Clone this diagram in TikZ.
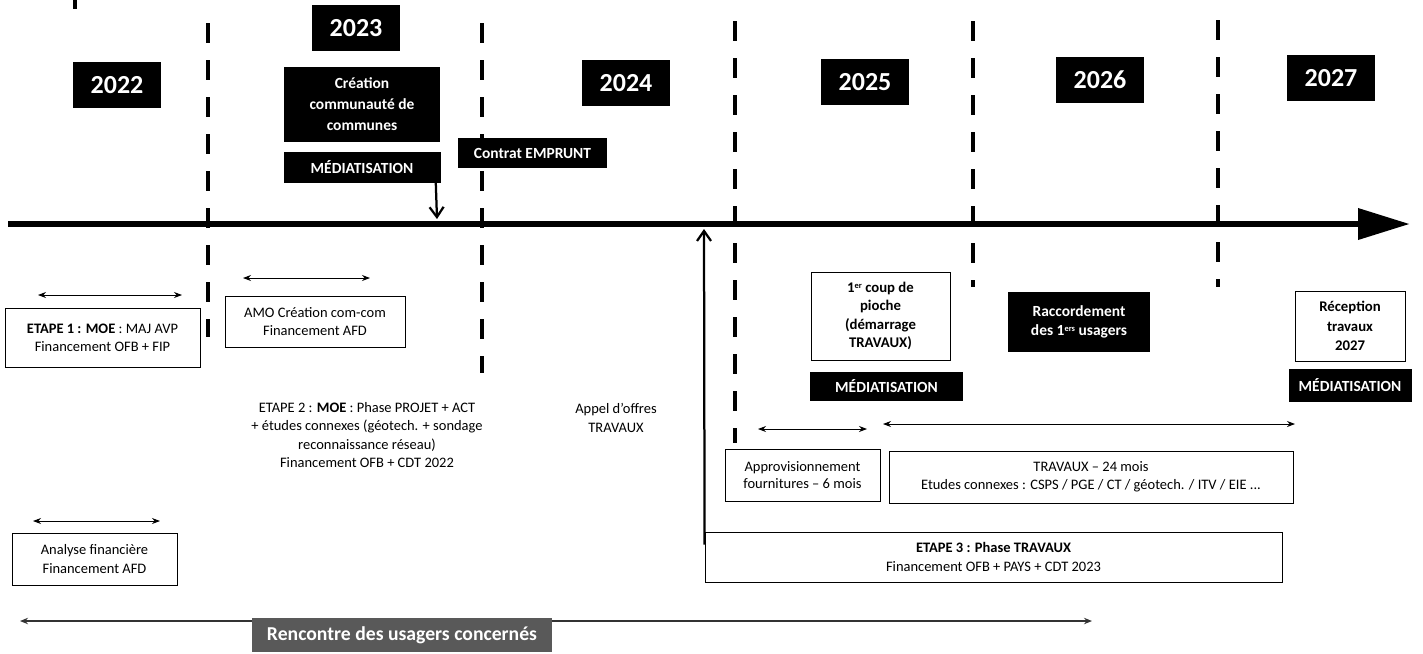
\documentclass[tikz,border=0pt]{standalone}
\usepackage{fontspec}
\setmainfont{Carlito}
\usepackage{tikz}
\usetikzlibrary{positioning}
\usetikzlibrary{arrows.meta}
\tikzset{
   yearBox/.style={fill=black, text=white, font=\bfseries\fontsize{18.5}{20}\selectfont, minimum width=22mm, minimum height=11.5mm, inner sep=0mm},
   blackLabel/.style={fill=black, text=white, font=\bfseries\fontsize{11}{14}\selectfont, align=center, inner sep=0mm},
   plainBox/.style={draw=black, line width=0.6pt, font=\fontsize{10.3}{13}\selectfont, align=center, inner sep=0mm},
   plainText/.style={font=\fontsize{10.3}{13}\selectfont, align=center, inner sep=0mm},
   yearLine/.style={draw=black, line width=1mm, dash pattern=on 5mm off 4.25mm},
   spanArrow/.style={draw=black, line width=0.6pt, {Stealth[length=2mm,width=1.5mm]}-{Stealth[length=2mm,width=1.5mm]}},
   timeAxis/.style={draw=black, line width=1.7mm, -{Triangle[length=13mm,width=7.5mm]}},
   pointer/.style={draw=black, line width=1.6pt, -{Straight Barb[length=2.5mm,width=3.5mm]}},
}
\newcommand{\supsmall}[1]{\raisebox{0.6ex}{\fontsize{6}{6}\selectfont #1}}

\begin{document}
\begin{tikzpicture}[x=0.25mm, y=-0.25mm, node distance=2.25mm]
  \useasboundingbox (0,0) rectangle (1423,653);
  %
  % year separators
  \draw[line width=1mm] (75,0) -- (75,9);
  \draw[yearLine] (208,23) -- (208,337);
  \draw[yearLine] (482,23) -- (482,373);
  \draw[yearLine] (735,21) -- (735,443);
  \draw[yearLine] (973,21) -- (973,287);
  \draw[yearLine] (1218,20) -- (1218,287);
  %
  \coordinate (axisStart) at (8,224);
  \coordinate (axisEnd) at (1410,224);
  \draw[timeAxis] (axisStart) -- (axisEnd);
  %
  \node[yearBox] (year2022) at (117,85) {2022};
  \node[yearBox] (year2023) at (356,28) {2023};
  \node[yearBox] (year2024) at (626,83) {2024};
  \node[yearBox] (year2025) at (865,82) {2025};
  \node[yearBox] (year2026) at (1100,80) {2026};
  \node[yearBox] (year2027) at (1331,78) {2027};
  %
  \node[blackLabel, minimum width=39mm, minimum height=18.75mm, font=\bfseries\fontsize{11}{15}\selectfont] (creation) at (362,104.5) {Création\\communauté de\\communes};
  \node[blackLabel, minimum width=39.25mm, minimum height=7.75mm, below=of creation] (mediaOne) {MÉDIATISATION};
  \node[blackLabel, minimum width=37.25mm, minimum height=7.5mm] (contrat) at (532.5,153) {Contrat EMPRUNT};
  %
  \coordinate (axisHitA) at (437,219);
  \draw[pointer] ([xshift=-1.25mm]mediaOne.south east) -- (axisHitA);
  %
  \coordinate (spanOneL) at (38,295);
  \coordinate (spanOneR) at (182,295);
  \draw[spanArrow] (spanOneL) -- (spanOneR);
  \node[plainBox, minimum width=48.75mm, minimum height=14.75mm] (etapeOne) at (102.5,337.5) {\textbf{ETAPE 1 : MOE} : MAJ AVP\\Financement OFB + FIP};
  %
  \coordinate (spanAmoL) at (243,278);
  \coordinate (spanAmoR) at (370,278);
  \draw[spanArrow] (spanAmoL) -- (spanAmoR);
  \node[plainBox, minimum width=45mm, minimum height=12.75mm] (amo) at (315,321.5) {AMO Création com-com\\Financement AFD};
  %
  \node[plainText] (etapeTwo) at (367,435) {ETAPE 2 : \textbf{MOE} : Phase PROJET + ACT\\+ études connexes (géotech. + sondage\\reconnaissance réseau)\\Financement OFB + CDT 2022};
  \node[plainText] (appel) at (616,418) {Appel d’offres\\TRAVAUX};
  %
  \node[plainBox, minimum width=34.75mm, minimum height=22mm, font=\bfseries\fontsize{10.5}{13}\selectfont] (pioche) at (880.5,316) {1\supsmall{er} coup de\\pioche\\(démarrage\\TRAVAUX)};
  \node[blackLabel, minimum width=38.25mm, minimum height=7.25mm, below=2.75mm of pioche.south, anchor=north, xshift=1.5mm] (mediaTwo) {MÉDIATISATION};
  \node[blackLabel, minimum width=35.5mm, minimum height=15mm] (raccord) at (1079,322) {Raccordement\\des 1\supsmall{ers} usagers};
  \node[plainBox, minimum width=27.5mm, minimum height=17.5mm, font=\bfseries\fontsize{10.5}{14}\selectfont] (reception) at (1350,326) {Réception\\travaux\\2027};
  \node[blackLabel, minimum width=30.75mm, minimum height=8.25mm, below=1.75mm of reception.south, anchor=north] (mediaThree) {MÉDIATISATION};
  %
  \coordinate (spanApproL) at (758,429);
  \coordinate (spanApproR) at (867,429);
  \draw[spanArrow] (spanApproL) -- (spanApproR);
  \coordinate (spanTravL) at (883,424);
  \coordinate (spanTravR) at (1295,424);
  \draw[spanArrow] (spanTravL) -- (spanTravR);
  \node[plainBox, minimum width=38.75mm, minimum height=13mm, font=\fontsize{10.3}{12}\selectfont] (appro) at (802.5,475) {Approvisionnement\\fournitures -- 6 mois};
  \node[plainBox, minimum width=101mm, minimum height=13mm] (travaux) at (1091,477) {TRAVAUX -- 24 mois\\Etudes connexes : CSPS / PGE / CT / géotech. / ITV / EIE ...};
  \node[plainBox, minimum width=144.25mm, minimum height=12.5mm] (etapeThree) at (993.5,557) {\textbf{ETAPE 3 : Phase TRAVAUX}\\Financement OFB + PAYS + CDT 2023};
  %
  \coordinate (axisHitB) at (704,229);
  \draw[pointer] ([yshift=-3.25mm]etapeThree.north west) -- (axisHitB);
  %
  \coordinate (spanAnaL) at (33,521);
  \coordinate (spanAnaR) at (160,521);
  \draw[spanArrow] (spanAnaL) -- (spanAnaR);
  \node[plainBox, minimum width=41.25mm, minimum height=13mm] (analyse) at (94.5,559) {Analyse financière\\Financement AFD};
  %
  \coordinate (meetL) at (20,621);
  \coordinate (meetR) at (1092,621);
  \draw[draw=black!80, line width=0.5mm, {Stealth[length=2mm,width=1.6mm]}-{Stealth[length=2mm,width=1.6mm]}] (meetL) -- (meetR);
  \node[fill=black!65, text=white, font=\bfseries\fontsize{14}{15}\selectfont, minimum width=75mm, minimum height=8.5mm, inner sep=0mm] (meeting) at (402,635) {Rencontre des usagers concernés};
\end{tikzpicture}
\end{document}
